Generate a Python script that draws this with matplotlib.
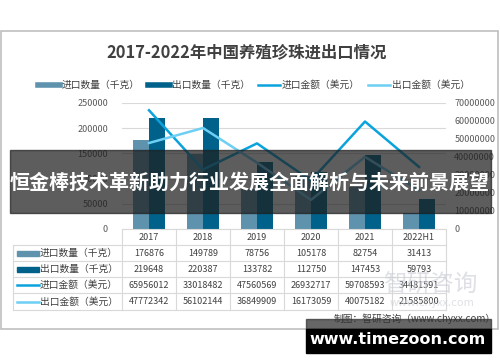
import numpy as np
import matplotlib.pyplot as plt
from matplotlib.patches import Rectangle
from matplotlib.lines import Line2D

plt.rcParams['font.family'] = ['Noto Sans CJK SC', 'DejaVu Sans']

years = ['2017', '2018', '2019', '2020', '2021', '2022H1']
imp_qty = [176876, 149789, 78756, 105178, 82754, 31413]
exp_qty = [219648, 220387, 133782, 112750, 147453, 59793]
imp_val = [65956012, 33018482, 47560569, 26932717, 59708593, 34481591]
exp_val = [47772342, 56102144, 36849909, 16173059, 40075182, 21585800]
names = ['进口数量（千克）', '出口数量（千克）', '进口金额（美元）', '出口金额（美元）']

c_iq = '#5f93ad'
c_eq = '#00628b'
c_iv = '#0aa3dc'
c_ev = '#6dcff3'
grid_c = '#d9d9d9'
txt_c = '#595959'

W, H = 500, 362
fig = plt.figure(figsize=(W / 100, H / 100), dpi=100)


def fx(x):
    return x / W


def fy(y):
    return 1 - y / H


# chart frame
fig.patches.append(Rectangle((fx(0.5), fy(329)), fx(497.5), (329 - 31) / H,
                             transform=fig.transFigure, fill=False, ec='#bfbfbf', lw=1.2))

fig.text(fx(247), fy(52), '2017-2022年中国养殖珍珠进出口情况', ha='center', va='center',
         fontsize=11.8, fontweight='bold', color='#404040')

# plot area
L, R, T, B = 122, 446, 103, 229
ax = fig.add_axes([fx(L), fy(B), (R - L) / W, (B - T) / H])
x = np.arange(len(years))
bw = 0.3
ax.bar(x - bw / 2, imp_qty, bw, color=c_iq, zorder=2)
ax.bar(x + bw / 2, exp_qty, bw, color=c_eq, zorder=2)
ax.set_xlim(-0.5, len(years) - 0.5)
ax.set_ylim(0, 250000)
ax.set_yticks(np.arange(0, 250001, 50000))
ax.yaxis.grid(True, color=grid_c, lw=0.8, zorder=0)
ax.set_xticks([])
ax.tick_params(axis='y', length=0, labelsize=6.5, labelcolor=txt_c, pad=10)
for s in ax.spines.values():
    s.set_visible(False)

ax2 = ax.twinx()
ax2.plot(x, imp_val, color=c_iv, lw=1.8, zorder=3)
ax2.plot(x, exp_val, color=c_ev, lw=1.8, zorder=3)
ax2.set_ylim(0, 70000000)
ax2.set_yticks(np.arange(0, 70000001, 10000000))
ax2.set_yticklabels([str(v) for v in range(0, 70000001, 10000000)])
ax2.tick_params(axis='y', length=0, labelsize=6.5, labelcolor=txt_c, pad=6)
for s in ax2.spines.values():
    s.set_visible(False)

# legend
handles = [Line2D([], [], color=c_iq, lw=4), Line2D([], [], color=c_eq, lw=4),
           Line2D([], [], color=c_iv, lw=1.8), Line2D([], [], color=c_ev, lw=1.8)]
fig.legend(handles, names, loc='center', bbox_to_anchor=(fx(254), fy(85)), ncol=4,
           frameon=False, fontsize=7, handlelength=2.2, handletextpad=0.2,
           columnspacing=0.9, labelcolor='#404040')

# data table
col_w = (R - L) / len(years)
rows_y = [229, 245, 261, 277, 293, 310]
tl = 13
for i, yy in enumerate(rows_y):
    x0 = L if i == 0 else tl
    fig.lines.append(Line2D([fx(x0), fx(R)], [fy(yy), fy(yy)], transform=fig.transFigure,
                            color=grid_c, lw=0.8))
for j in range(len(years) + 1):
    xx = L + j * col_w
    fig.lines.append(Line2D([fx(xx), fx(xx)], [fy(229), fy(310)], transform=fig.transFigure,
                            color=grid_c, lw=0.8))
fig.lines.append(Line2D([fx(tl), fx(tl)], [fy(245), fy(310)], transform=fig.transFigure,
                        color=grid_c, lw=0.8))

for j, yr in enumerate(years):
    fig.text(fx(L + (j + 0.5) * col_w), fy(237), yr, ha='center', va='center',
             fontsize=6.5, color='#404040')

series = [imp_qty, exp_qty, imp_val, exp_val]
colors = [c_iq, c_eq, c_iv, c_ev]
for i, (nm, vals, c) in enumerate(zip(names, series, colors)):
    yc = (rows_y[i + 1] + rows_y[i + 2]) / 2
    if i < 2:
        fig.patches.append(Rectangle((fx(17), fy(yc + 2.5)), fx(22), 5 / H,
                                     transform=fig.transFigure, color=c))
    else:
        fig.lines.append(Line2D([fx(17), fx(39)], [fy(yc), fy(yc)], transform=fig.transFigure,
                                color=c, lw=1.8))
    fig.text(fx(40), fy(yc), nm, ha='left', va='center', fontsize=7, color='#404040')
    for j, v in enumerate(vals):
        fig.text(fx(L + (j + 0.5) * col_w), fy(yc), str(v), ha='center', va='center',
                 fontsize=6.5, color='#404040')

# watermark
fig.text(fx(430), fy(285), '智研咨询', ha='center', va='center', fontsize=17,
         color='#c8ccd4', alpha=0.6)
fig.text(fx(432), fy(303), 'www.chyxx.com', ha='center', va='center', fontsize=8,
         color='#c8ccd4', alpha=0.6)

# source
fig.text(fx(496), fy(319), '制图：智研咨询（www.chyxx.com）', ha='right', va='center',
         fontsize=7, color='#404040')

# overlay banner
fig.patches.append(Rectangle((fx(10), fy(213)), fx(481), (213 - 150) / H,
                             transform=fig.transFigure, color='#1e1e1e', alpha=0.72, zorder=5))
fig.text(fx(250), fy(182), '恒金棒技术革新助力行业发展全面解析与未来前景展望', ha='center',
         va='center', fontsize=14.4, fontweight='bold', color='white', zorder=6)

# bottom badge
fig.patches.append(Rectangle((fx(306), fy(329)), fx(185), 10 / H,
                             transform=fig.transFigure, color='#333333', alpha=0.75, zorder=5))
fig.patches.append(Rectangle((fx(306), fy(353)), fx(185), 24 / H,
                             transform=fig.transFigure, color='black', zorder=5))
fig.text(fx(398), fy(340), 'www.timezoon.com', ha='center', va='center', fontsize=11.5,
         fontweight='bold', color='white', family='DejaVu Sans', zorder=6)

fig.savefig('out.png', dpi=100)
